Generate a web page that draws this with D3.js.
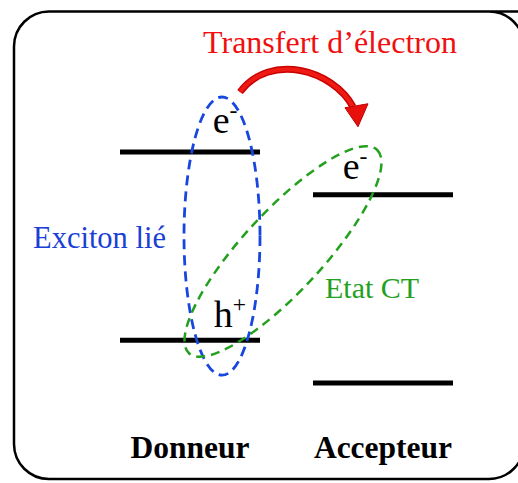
<!DOCTYPE html>
<html>
<head>
<meta charset="utf-8">
<script src="https://cdn.jsdelivr.net/npm/d3@7"></script>
<style>
  html, body { margin: 0; padding: 0; background: #fff; overflow: hidden; }
  svg { display: block; }
  svg text { font-family: "Liberation Serif", "DejaVu Serif", serif; }
</style>
</head>
<body>
<svg id="chart"></svg>
<script>
// Energy levels (eV, approximate) for each material
const sides = ["Donneur", "Accepteur"];
const lumo = [-3.0, -3.5];
const homo = [-5.2, -5.7];

const titleText = "Transfert d\u2019électron";
const excitonText = "Exciton lié";
const ctText = "Etat CT";

const W = 518, H = 483;
const SERIF = "Liberation Serif";
const svg = d3.select("#chart").attr("width", W).attr("height", H);

const x = d3.scaleBand().domain(sides).range([120, 453]).paddingInner(0.2746);
const y = d3.scaleLinear().domain([-3.0, -5.7]).range([152, 383]);

// Frame (runs past the right edge)
svg.append("path")
  .attr("d", "M560,11.5 H49 A35,35 0 0 0 14,46.5 V444 A35,35 0 0 0 49,479 H489 A35,35 0 0 0 524,444 V46.5 A35,35 0 0 0 489,11.5 Z")
  .attr("fill", "none")
  .attr("stroke", "#000")
  .attr("stroke-width", 2.5);

// Energy levels
const levels = sides.flatMap((s, i) => [
  {side: s, e: lumo[i]},
  {side: s, e: homo[i]}
]);
svg.selectAll(".level")
  .data(levels)
  .enter().append("line")
  .attr("class", "level")
  .attr("x1", d => x(d.side))
  .attr("x2", d => x(d.side) + x.bandwidth())
  .attr("y1", d => y(d.e))
  .attr("y2", d => y(d.e))
  .attr("stroke", "#000")
  .attr("stroke-width", 5);

const xD = x("Donneur") + x.bandwidth() / 2;
const xA = x("Accepteur") + x.bandwidth() / 2;

// Bound exciton (blue ellipse)
const exTop = y(lumo[0]) - 55, exBot = y(homo[0]) + 35;
svg.append("ellipse")
  .attr("cx", xD + 32)
  .attr("cy", (exTop + exBot) / 2)
  .attr("rx", 38)
  .attr("ry", (exBot - exTop) / 2)
  .attr("fill", "none")
  .attr("stroke", "#1747de")
  .attr("stroke-width", 2.8)
  .attr("stroke-dasharray", "10,6");

// CT state (green tilted ellipse)
const p1 = [xD - 1, y(homo[0]) + 13];
const p2 = [xA - 6, y(lumo[1]) - 45];
const ctCx = (p1[0] + p2[0]) / 2, ctCy = (p1[1] + p2[1]) / 2;
const ctA = Math.hypot(p2[0] - p1[0], p2[1] - p1[1]) / 2;
const ctAng = Math.atan2(p2[1] - p1[1], p2[0] - p1[0]) * 180 / Math.PI;
svg.append("ellipse")
  .attr("transform", `translate(${ctCx},${ctCy}) rotate(${ctAng})`)
  .attr("rx", ctA)
  .attr("ry", 40)
  .attr("fill", "none")
  .attr("stroke", "#23a01d")
  .attr("stroke-width", 2.5)
  .attr("stroke-dasharray", "9,6");

// Carrier labels
function carrier(px, py, base, sup, size) {
  const t = svg.append("text")
    .attr("x", px).attr("y", py)
    .attr("text-anchor", "middle")
    .attr("font-family", SERIF)
    .attr("font-size", size)
    .attr("fill", "#000");
  t.append("tspan").text(base);
  t.append("tspan").attr("dy", -size * 0.4).attr("font-size", size * 0.62).text(sup);
}
carrier(xD + 35, y(lumo[0]) - 19, "e", "-", 38);
carrier(xA - 28, y(lumo[1]) - 16, "e", "-", 38);
carrier(xD + 40, y(homo[0]) - 13, "h", "+", 38);

// Electron transfer arrow
const a0 = [xD + 50, y(lumo[0]) - 60];
const a1 = [xA - 30, y(lumo[1]) - 90];
const tip = [xA - 25, y(lumo[1]) - 68];
const arrowPath = d3.path();
arrowPath.moveTo(a0[0], a0[1]);
arrowPath.bezierCurveTo(a0[0] + 30, a0[1] - 40, a1[0] - 20, a1[1] - 35, a1[0], a1[1] + 2);
svg.append("path")
  .attr("d", arrowPath.toString())
  .attr("fill", "none")
  .attr("stroke", "#c80000")
  .attr("stroke-width", 7);
svg.append("path")
  .attr("d", arrowPath.toString())
  .attr("fill", "none")
  .attr("stroke", "#f01a14")
  .attr("stroke-width", 4);
svg.append("path")
  .attr("d", `M${tip[0]},${tip[1]} L${tip[0] - 13},${tip[1] - 19} L${tip[0] + 10},${tip[1] - 23} Z`)
  .attr("fill", "#e8100c")
  .attr("stroke", "#c00000")
  .attr("stroke-width", 1);

// Titles / annotations
svg.append("text")
  .attr("x", 330).attr("y", 53)
  .attr("text-anchor", "middle")
  .attr("font-family", SERIF)
  .attr("font-size", 32)
  .attr("fill", "#f00f0f")
  .text(titleText);

svg.append("text")
  .attr("x", 33).attr("y", 248)
  .attr("font-family", SERIF)
  .attr("font-size", 30.5)
  .attr("fill", "#1a3fd6")
  .text(excitonText);

svg.append("text")
  .attr("x", 325).attr("y", 298)
  .attr("font-family", SERIF)
  .attr("font-size", 30)
  .attr("fill", "#23a01d")
  .text(ctText);

// Material names
svg.selectAll(".side")
  .data(sides)
  .enter().append("text")
  .attr("class", "side")
  .attr("x", d => x(d) + x.bandwidth() / 2)
  .attr("y", 458)
  .attr("text-anchor", "middle")
  .attr("font-family", SERIF)
  .attr("font-size", 31.5)
  .attr("font-weight", "bold")
  .attr("fill", "#000")
  .text(d => d);
</script>
</body>
</html>
